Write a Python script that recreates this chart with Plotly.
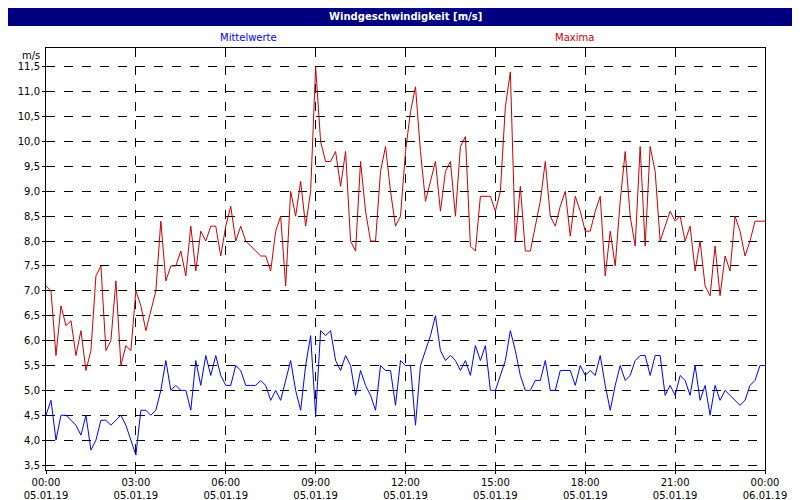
import pandas as pd
import plotly.graph_objects as go

# 10-minute values, 05.01.19 00:00 .. 06.01.19 00:00
maxima = [
    7.1, 7.0, 5.7, 6.7, 6.3, 6.4,
    5.7, 6.2, 5.4, 5.8, 7.3, 7.5,
    5.8, 6.0, 7.2, 5.5, 5.9, 5.8,
    7.0, 6.7, 6.2, 6.6, 7.0, 8.4,
    7.2, 7.5, 7.5, 7.8, 7.3, 8.3,
    7.4, 8.2, 8.0, 8.3, 8.3, 7.7,
    8.3, 8.7, 8.0, 8.3, 8.0, 7.9,
    7.8, 7.7, 7.7, 7.4, 8.2, 8.5,
    7.1, 9.0, 8.5, 9.2, 8.3, 9.0,
    11.5, 10.0, 9.6, 9.6, 9.8, 9.1,
    9.8, 8.0, 7.8, 9.6, 8.6, 8.0,
    8.0, 9.4, 9.9, 9.0, 8.3, 8.5,
    9.8, 10.6, 11.1, 9.8, 8.8, 9.2,
    9.6, 8.6, 9.4, 9.6, 8.5, 9.9,
    10.1, 7.9, 7.8, 8.9, 8.9, 8.9,
    8.6, 9.0, 10.7, 11.4, 8.0, 9.1,
    7.8, 7.8, 8.3, 8.8, 9.6, 8.5,
    8.3, 8.7, 9.0, 8.1, 8.9, 8.6,
    8.2, 8.2, 8.6, 8.9, 7.3, 8.2,
    7.5, 8.8, 9.8, 8.5, 7.9, 9.9,
    7.9, 9.9, 9.4, 8.0, 8.3, 8.6,
    8.4, 8.5, 8.0, 8.3, 7.4, 8.0,
    7.1, 6.9, 7.9, 6.9, 7.7, 7.4,
    8.5, 8.2, 7.7, 8.0, 8.4, 8.4,
    8.4,
]
mittel = [
    4.5, 4.8, 4.0, 4.5, 4.5, 4.4,
    4.3, 4.1, 4.5, 3.8, 4.0, 4.4,
    4.4, 4.3, 4.4, 4.5, 4.3, 4.0,
    3.7, 4.6, 4.6, 4.5, 4.6, 5.0,
    5.6, 5.0, 5.1, 5.0, 5.0, 4.6,
    5.6, 5.1, 5.7, 5.3, 5.7, 5.3,
    5.1, 5.1, 5.5, 5.4, 5.1, 5.1,
    5.1, 5.2, 5.1, 4.8, 5.0, 4.8,
    5.2, 5.6, 5.0, 4.6, 5.5, 6.1,
    4.5, 6.2, 6.1, 6.2, 5.6, 5.4,
    5.7, 5.5, 4.9, 5.4, 5.1, 4.9,
    4.6, 5.5, 5.4, 5.4, 4.7, 5.6,
    5.5, 5.5, 4.3, 5.5, 5.8, 6.1,
    6.5, 5.8, 5.6, 5.7, 5.6, 5.4,
    5.6, 5.3, 5.9, 5.6, 5.9, 5.0,
    5.0, 5.3, 5.6, 6.2, 5.8, 5.3,
    5.0, 5.0, 5.2, 5.2, 5.6, 5.0,
    5.0, 5.4, 5.4, 5.4, 5.1, 5.5,
    5.3, 5.4, 5.3, 5.7, 5.1, 4.6,
    5.1, 5.5, 5.2, 5.3, 5.6, 5.7,
    5.7, 5.3, 5.7, 5.7, 4.9, 5.1,
    4.9, 5.3, 5.2, 4.9, 5.5, 4.8,
    5.1, 4.5, 5.1, 4.8, 5.0, 4.9,
    4.8, 4.7, 4.8, 5.1, 5.2, 5.5,
    5.5,
]
times = pd.date_range("2019-01-05 00:00", periods=len(maxima), freq="10min")
tick_vals = pd.date_range("2019-01-05 00:00", "2019-01-06 00:00", freq="3h")
tick_text = [t.strftime("%H:%M<br>%d.%m.%y") for t in tick_vals]
y_ticks = [3.5 + 0.5 * i for i in range(17)]

FONT = "DejaVu Sans"

fig = go.Figure()
fig.add_trace(go.Scatter(x=times, y=maxima, mode="lines", line=dict(color="#CC0000", width=1)))
fig.add_trace(go.Scatter(x=times, y=mittel, mode="lines", line=dict(color="#0000FF", width=1)))

axis_common = dict(
    showgrid=True, gridcolor="black", griddash="dash", gridwidth=1,
    showline=True, linecolor="black", linewidth=1, mirror=True,
    ticks="outside", ticklen=3, tickcolor="black", automargin=False,
    tickfont=dict(size=10, color="black", family=FONT), zeroline=False,
)
fig.update_xaxes(range=[times[0], times[-1]], tickvals=tick_vals, ticktext=tick_text, **axis_common)
fig.update_yaxes(range=[3.4, 11.88], tickvals=y_ticks,
                 ticktext=[f"{v:.1f}".replace(".", ",") for v in y_ticks], **axis_common)

fig.update_layout(
    width=800, height=500, showlegend=False,
    paper_bgcolor="white", plot_bgcolor="white",
    margin=dict(l=38, r=43, t=40, b=38),
    font=dict(family=FONT, size=10, color="black"),
    shapes=[
        dict(type="rect", xref="paper", yref="paper", x0=-0.06, x1=1.07, y0=1.052, y1=1.1,
             fillcolor="#000080", line=dict(width=0), layer="below"),
    ],
    annotations=[
        dict(text="<b>Windgeschwindigkeit [m/s]</b>", xref="paper", yref="paper", x=0.5, y=1.074,
             showarrow=False, font=dict(color="white", size=10, family=FONT), yanchor="middle"),
        dict(text="Mittelwerte", xref="paper", yref="paper", x=0.239, y=1.024, showarrow=False,
             font=dict(color="#0000FF", size=10, family=FONT), yanchor="middle"),
        dict(text="Maxima", xref="paper", yref="paper", x=0.765, y=1.024, showarrow=False,
             font=dict(color="#CC0000", size=10, family=FONT), yanchor="middle"),
        dict(text="m/s", xref="paper", yref="paper", x=-0.006, y=1.0, showarrow=False,
             xanchor="right", yanchor="top", font=dict(size=10, family=FONT)),
    ],
)
fig.write_html("out.html")
